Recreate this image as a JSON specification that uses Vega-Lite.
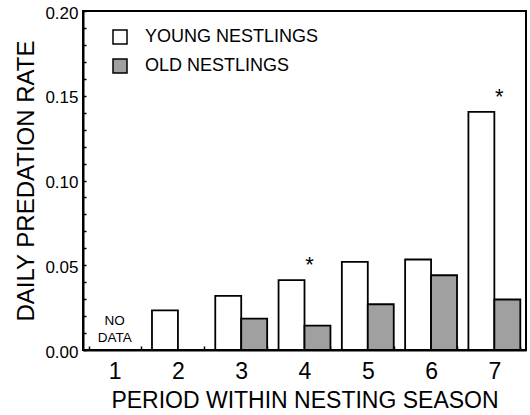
{
  "$schema": "https://vega.github.io/schema/vega-lite/v6.json",
  "width": 443,
  "height": 339,
  "autosize": {"type": "none"},
  "padding": {"left": 83, "top": 11, "right": 4, "bottom": 65},
  "background": "white",
  "config": {
    "font": "Liberation Sans",
    "view": {"stroke": "black", "strokeWidth": 2},
    "axis": {
      "grid": false,
      "domainColor": "black",
      "domainWidth": 2,
      "tickColor": "black",
      "tickWidth": 1.5,
      "labelColor": "black",
      "titleColor": "black",
      "titleFontWeight": "normal",
      "labelFont": "Liberation Sans",
      "titleFont": "Liberation Sans"
    }
  },
  "data": {
    "values": [
      {"period": 1, "group": "YOUNG NESTLINGS", "rate": null, "sig": null, "note": "NO\nDATA"},
      {"period": 2, "group": "YOUNG NESTLINGS", "rate": 0.0234, "sig": null, "note": null},
      {"period": 3, "group": "YOUNG NESTLINGS", "rate": 0.0319, "sig": null, "note": null},
      {"period": 3, "group": "OLD NESTLINGS", "rate": 0.0185, "sig": null, "note": null},
      {"period": 4, "group": "YOUNG NESTLINGS", "rate": 0.0412, "sig": "*", "note": null},
      {"period": 4, "group": "OLD NESTLINGS", "rate": 0.0144, "sig": null, "note": null},
      {"period": 5, "group": "YOUNG NESTLINGS", "rate": 0.052, "sig": null, "note": null},
      {"period": 5, "group": "OLD NESTLINGS", "rate": 0.027, "sig": null, "note": null},
      {"period": 6, "group": "YOUNG NESTLINGS", "rate": 0.0534, "sig": null, "note": null},
      {"period": 6, "group": "OLD NESTLINGS", "rate": 0.0441, "sig": null, "note": null},
      {"period": 7, "group": "YOUNG NESTLINGS", "rate": 0.1405, "sig": "*", "note": null},
      {"period": 7, "group": "OLD NESTLINGS", "rate": 0.0298, "sig": null, "note": null}
    ]
  },
  "encoding": {
    "x": {
      "field": "period",
      "type": "ordinal",
      "scale": {"domain": [1, 2, 3, 4, 5, 6, 7], "paddingInner": 0.18, "paddingOuter": 0.09},
      "axis": {
        "title": "PERIOD WITHIN NESTING SEASON",
        "labelAngle": 0,
        "tickBand": "extent",
        "tickSize": -4,
        "labelFontSize": 23,
        "labelBaseline": "alphabetic",
        "labelPadding": 32,
        "titleFontSize": 23,
        "titleBaseline": "alphabetic",
        "titleY": 57
      }
    },
    "y": {
      "field": "rate",
      "type": "quantitative",
      "scale": {"domain": [0, 0.2], "nice": false},
      "axis": {
        "title": "DAILY PREDATION RATE",
        "values": [0, 0.01, 0.02, 0.03, 0.04, 0.05, 0.06, 0.07, 0.08, 0.09, 0.1, 0.11, 0.12, 0.13, 0.14, 0.15, 0.16, 0.17, 0.18, 0.19, 0.2],
        "format": ".2f",
        "labelExpr": "indexof(['0.00','0.05','0.10','0.15','0.20'], datum.label) >= 0 ? datum.label : ''",
        "tickSize": -3,
        "labelPadding": 8,
        "labelOffset": 2,
        "labelFontSize": 17,
        "titleFontSize": 24,
        "titleX": -50,
        "titleBaseline": "alphabetic"
      }
    }
  },
  "layer": [
    {
      "mark": {"type": "bar", "stroke": "black", "strokeWidth": 1.8},
      "encoding": {
        "xOffset": {
          "field": "group",
          "type": "nominal",
          "scale": {"domain": ["YOUNG NESTLINGS", "OLD NESTLINGS"], "paddingInner": 0}
        },
        "fill": {
          "field": "group",
          "type": "nominal",
          "scale": {"domain": ["YOUNG NESTLINGS", "OLD NESTLINGS"], "range": ["white", "#a0a0a0"]},
          "legend": {
            "title": null,
            "orient": "none",
            "legendX": 28,
            "legendY": 17,
            "padding": 0,
            "symbolType": "square",
            "symbolSize": 196,
            "symbolStrokeColor": "black",
            "symbolStrokeWidth": 1.5,
            "labelFontSize": 18,
            "labelFont": "Liberation Sans",
            "labelColor": "black",
            "labelLimit": 0,
            "labelOffset": 16,
            "rowPadding": 9
          }
        }
      }
    },
    {
      "transform": [{"filter": "datum.sig != null"}],
      "mark": {"type": "text", "fontSize": 22, "baseline": "alphabetic", "dx": 5, "dy": -8, "color": "black"},
      "encoding": {"text": {"field": "sig"}}
    },
    {
      "transform": [{"filter": "datum.note != null"}],
      "mark": {"type": "text", "fontSize": 13.5, "baseline": "alphabetic", "lineBreak": "\n", "lineHeight": 16.5, "dy": -25, "color": "black", "invalid": null},
      "encoding": {
        "y": {"datum": 0, "type": "quantitative"},
        "text": {"field": "note", "type": "nominal"}
      }
    }
  ]
}
